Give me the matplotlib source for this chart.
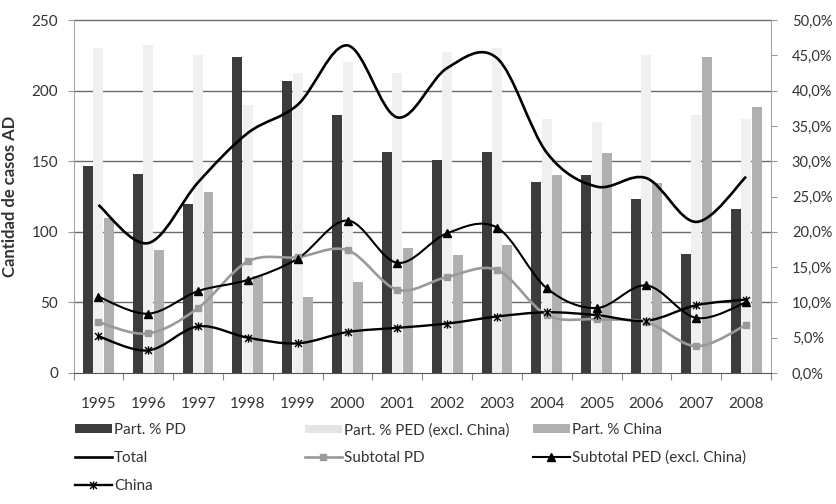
import numpy as np
import matplotlib
matplotlib.use('Agg')
import matplotlib.pyplot as plt
from matplotlib.path import Path
from matplotlib.patches import PathPatch, Patch
from matplotlib.lines import Line2D
from matplotlib.ticker import FuncFormatter

plt.rcParams['font.family'] = ['Lato', 'DejaVu Sans']

years = ['1995', '1996', '1997', '1998', '1999', '2000', '2001',
         '2002', '2003', '2004', '2005', '2006', '2007', '2008']

# participation shares (right axis, %)
part_pd = [29.3, 28.2, 24.0, 44.7, 41.4, 36.6, 31.3, 30.2, 31.3, 27.0, 28.0, 24.7, 16.9, 23.2]
part_ped = [46.0, 46.5, 45.0, 38.0, 42.5, 44.0, 42.5, 45.5, 46.0, 36.0, 35.5, 45.0, 36.5, 36.0]
part_china = [21.9, 17.4, 25.7, 13.8, 10.8, 12.9, 17.7, 16.7, 18.1, 28.0, 31.1, 26.9, 44.8, 37.7]

# number of AD cases (left axis)
total = [119, 92, 135, 170, 190, 232, 181, 216, 223, 156, 132, 138, 107, 139]
subtotal_pd = [36, 28, 46, 79, 82, 87, 59, 68, 73, 41, 38, 36, 19, 34]
subtotal_ped = [54, 42, 58, 66, 81, 108, 78, 99, 103, 60, 46, 62, 39, 50]
china = [26, 16, 33, 25, 21, 29, 32, 35, 40, 43, 41, 37, 48, 52]

TEXT = '#333333'
C_PD = '#3c3c3c'
C_PED = '#f0f0f0'
C_CHINA = '#b0b0b0'
C_SUBPD = '#9a9a9a'

# x with a vertical stroke, like the spreadsheet "star" marker
star_marker = Path([(-1, -1), (1, 1), (-1, 1), (1, -1), (0, -1.2), (0, 1.2)],
                   [Path.MOVETO, Path.LINETO, Path.MOVETO, Path.LINETO,
                    Path.MOVETO, Path.LINETO])


def smooth_path(xs, ys):
    # catmull-rom style bezier through the points (spreadsheet "smoothed line")
    pts = np.column_stack([xs, ys]).astype(float)
    n = len(pts)
    verts = [pts[0]]
    codes = [Path.MOVETO]
    for i in range(n - 1):
        p0 = pts[max(i - 1, 0)]
        p1 = pts[i]
        p2 = pts[i + 1]
        p3 = pts[min(i + 2, n - 1)]
        verts += [p1 + (p2 - p0) / 6, p2 - (p3 - p1) / 6, p2]
        codes += [Path.CURVE4] * 3
    return Path(verts, codes)


x = np.arange(len(years))

fig = plt.figure(figsize=(8.36, 5.04), dpi=100)
ax = fig.add_axes([73.5 / 836, 1 - 373 / 504, (771 - 73.5) / 836, (373 - 20) / 504])
ax2 = ax.twinx()

# bars on the percentage axis
w = 0.2
off = 0.21
for v in range(10, 51, 10):
    ax2.axhline(v, color='#6a6a6a', lw=1.0, zorder=0.5, clip_on=False)
ax2.bar(x - off, part_pd, w, color=C_PD, zorder=2)
ax2.bar(x, part_ped, w, color=C_PED, zorder=2)
ax2.bar(x + off, part_china, w, color=C_CHINA, zorder=2)
ax2.set_ylim(0, 50)
ax2.set_yticks(np.arange(0, 51, 5))
ax2.yaxis.set_major_formatter(FuncFormatter(lambda v, p: f'{v:.1f}%'.replace('.', ',')))
ax2.tick_params(axis='y', length=4, width=0.8, color='#999999', pad=11,
                labelsize=10.5, labelcolor=TEXT)
for s in ax2.spines.values():
    s.set_visible(False)

# lines on the cases axis
ax.set_zorder(ax2.get_zorder() + 1)
ax.patch.set_visible(False)
ax.add_patch(PathPatch(smooth_path(x, subtotal_pd), fill=False, edgecolor=C_SUBPD, lw=1.9))
ax.plot(x, subtotal_pd, ls='none', marker='s', ms=4.5, color=C_SUBPD)
ax.add_patch(PathPatch(smooth_path(x, china), fill=False, edgecolor='black', lw=1.7))
ax.plot(x, china, ls='none', marker=star_marker, ms=6, mew=1.0, color='black', mfc='none')
ax.add_patch(PathPatch(smooth_path(x, subtotal_ped), fill=False, edgecolor='black', lw=1.5))
ax.plot(x, subtotal_ped, ls='none', marker='^', ms=6, color='black')
ax.add_patch(PathPatch(smooth_path(x, total), fill=False, edgecolor='black', lw=1.9))

ax.set_xlim(-0.5, len(years) - 0.5)
ax.set_ylim(0, 250)
ax.set_yticks(np.arange(0, 251, 50))
ax.set_xticks(x)
ax.set_xticklabels(years)
ax.set_xticks(np.arange(-0.5, len(years), 1), minor=True)
ax.tick_params(axis='x', which='major', length=0, pad=17, labelsize=11, labelcolor=TEXT)
ax.tick_params(axis='x', which='minor', length=5, width=0.8, color='#888888')
ax.tick_params(axis='y', length=4, width=0.8, color='#999999', pad=7,
               labelsize=11, labelcolor=TEXT)
ax.set_ylabel('Cantidad de casos AD', fontsize=12, fontweight='bold', color=TEXT, labelpad=10)

ax.spines['top'].set_visible(False)
ax.spines['left'].set_color('#a8a8a8')
ax.spines['right'].set_color('#a8a8a8')
ax.spines['bottom'].set_color('#555555')

# legend laid out in three columns below the chart
h_pd = Patch(facecolor=C_PD)
h_ped = Patch(facecolor='#e4e4e4')
h_china_bar = Patch(facecolor=C_CHINA)
h_total = Line2D([], [], color='black', lw=1.9)
h_subpd = Line2D([], [], color=C_SUBPD, lw=1.9, marker='s', ms=4.5)
h_subped = Line2D([], [], color='black', lw=1.5, marker='^', ms=6)
h_china = Line2D([], [], color='black', lw=1.7, marker=star_marker, ms=6, mew=1.0, mfc='none')

columns = [
    ([h_pd, h_total, h_china], ['Part. % PD', 'Total', 'China'], 75),
    ([h_ped, h_subpd], ['Part. % PED (excl. China)', 'Subtotal PD'], 305),
    ([h_china_bar, h_subped], ['Part. % China', 'Subtotal PED (excl. China)'], 533),
]
for handles, labels, xpx in columns:
    fig.legend(handles, labels, loc='upper left',
               bbox_to_anchor=(xpx / 836, 1 - 423 / 504),
               frameon=False, fontsize=11, labelcolor=TEXT,
               borderpad=0, borderaxespad=0, handlelength=2.4,
               handleheight=0.45, handletextpad=0.15, labelspacing=0.9)

fig.savefig('out.png', dpi=100)
